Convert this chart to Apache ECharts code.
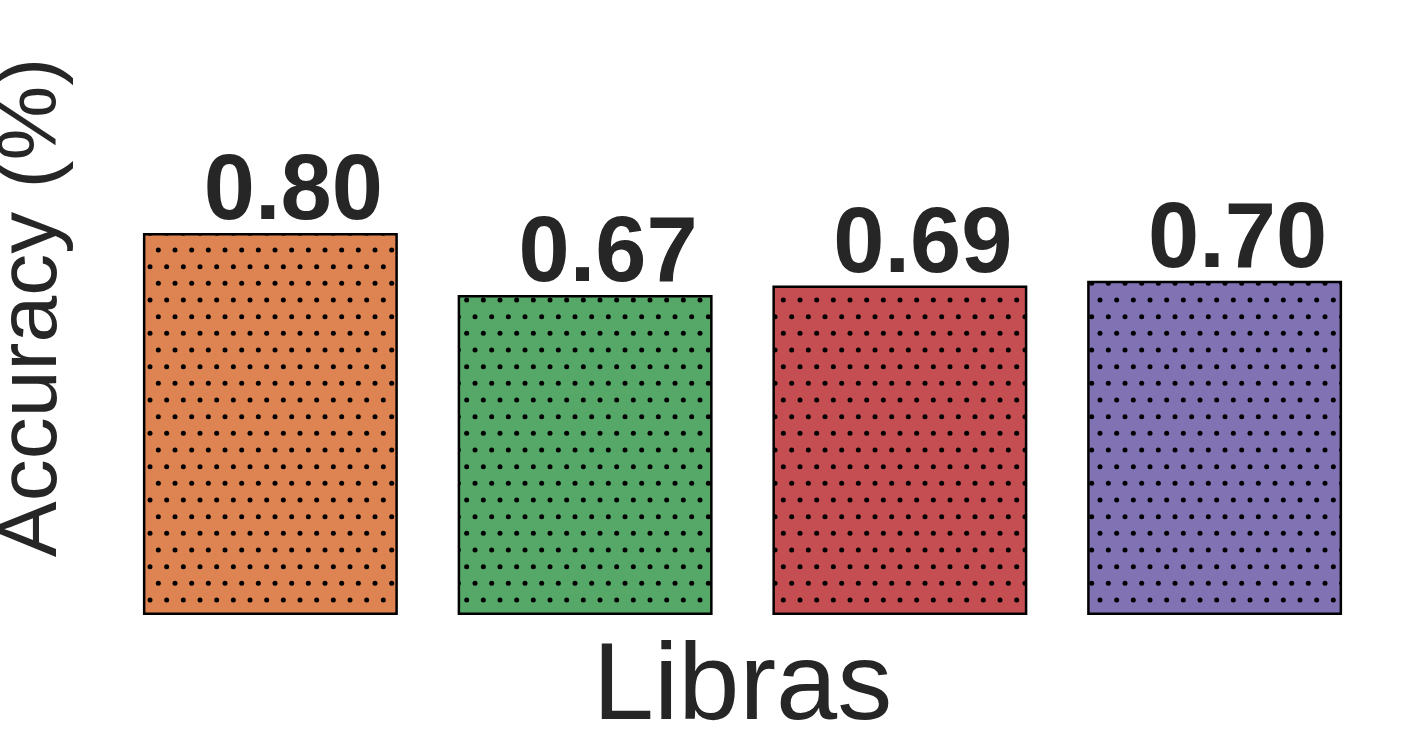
<!DOCTYPE html>
<html>
<head>
<meta charset="utf-8">
<script src="https://cdn.jsdelivr.net/npm/echarts@6/dist/echarts.min.js"></script>
<style>
html, body { margin: 0; padding: 0; background: #fff; }
#main { width: 1401px; height: 745px; }
</style>
</head>
<body>
<div id="main"></div>
<script>
// data
const categories = ['A', 'B', 'C', 'D'];
const accuracy = [0.80, 0.67, 0.69, 0.70];
const barColors = ['#DD8452', '#55A868', '#C44E52', '#8172B3'];
const xTitle = 'Libras';
const yTitle = 'Accuracy (%)';

// dotted hatch, staggered rows (tile 50x100 holds 3 columns x 6 rows)
function dotPattern(fill) {
    const c = document.createElement('canvas');
    c.width = 50;
    c.height = 100;
    const ctx = c.getContext('2d');
    ctx.fillStyle = fill;
    ctx.fillRect(0, 0, 50, 100);
    ctx.fillStyle = '#000';
    const step = 50 / 3;
    for (let r = 0; r < 6; r++) {
        const y = r * step;
        const shift = r % 2 ? step / 2 : 0;
        for (let k = 0; k < 3; k++) {
            const x = k * step + shift;
            for (const dx of [-50, 0, 50]) {
                for (const dy of [-100, 0, 100]) {
                    ctx.beginPath();
                    ctx.arc(x + dx, y + dy, 2.5, 0, Math.PI * 2);
                    ctx.fill();
                }
            }
        }
    }
    return c;
}

let chart = echarts.init(document.getElementById('main'));
chart.setOption({
    backgroundColor: '#fff',
    animation: false,
    grid: {
        left: 113,
        right: 29,
        top: 0,
        bottom: 130,
        outerBoundsMode: 'none',
        containLabel: false
    },
    xAxis: {
        type: 'category',
        data: categories,
        axisLine: { show: false },
        axisTick: { show: false },
        axisLabel: { show: false },
        name: xTitle,
        nameLocation: 'middle',
        nameGap: 19,
        nameTextStyle: {
            fontFamily: 'Liberation Sans',
            fontSize: 110,
            lineHeight: 110,
            color: '#262626'
        }
    },
    yAxis: {
        type: 'value',
        min: 0,
        max: 1.288,
        axisLine: { show: false },
        axisTick: { show: false },
        axisLabel: { show: false },
        splitLine: { show: false },
        name: yTitle,
        nameLocation: 'middle',
        nameRotate: 90,
        nameGap: 38,
        nameTextStyle: {
            fontFamily: 'Liberation Sans',
            fontSize: 84,
            lineHeight: 84,
            color: '#262626'
        }
    },
    series: [{
        type: 'bar',
        barWidth: '81%',
        data: accuracy.map((v, i) => ({
            value: v,
            itemStyle: {
                color: { image: dotPattern(barColors[i]), repeat: 'repeat' }
            }
        })),
        itemStyle: {
            borderColor: '#000',
            borderWidth: 2.5
        },
        label: {
            show: true,
            position: 'top',
            distance: 0,
            offset: [23, 7],
            formatter: p => p.value.toFixed(2),
            fontFamily: 'Liberation Sans',
            fontWeight: 'bold',
            fontSize: 92,
            lineHeight: 92,
            color: '#262626'
        }
    }]
});
</script>
</body>
</html>
